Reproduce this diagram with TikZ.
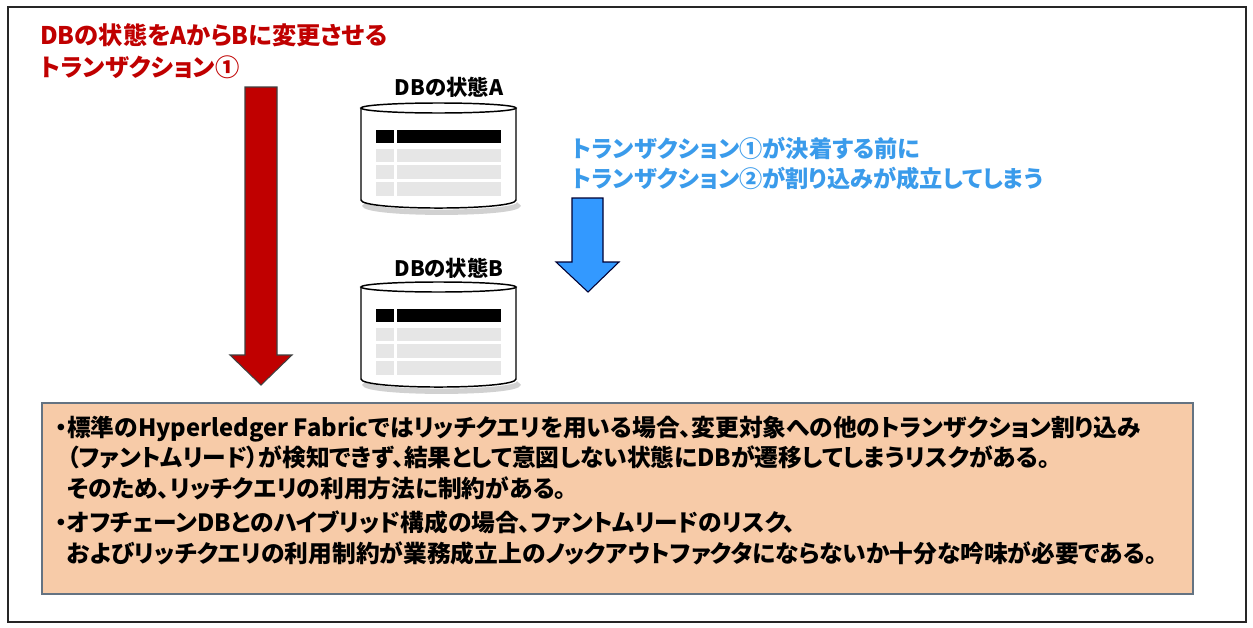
\documentclass[tikz,border=0pt]{standalone}
\usepackage{fontspec}
\setmainfont{Noto Sans CJK JP}[RawFeature=+palt]
\definecolor{darkred}{RGB}{192,0,0}
\definecolor{bluet}{RGB}{58,155,235}
\definecolor{bluearrow}{RGB}{51,153,255}
\definecolor{peach}{RGB}{247,203,168}
\definecolor{boxline}{RGB}{100,115,130}
\definecolor{rowgrey}{RGB}{230,230,230}
\tikzset{
  titletxt/.style={anchor=base west, inner sep=0pt, text=darkred, font=\bfseries\fontsize{18.2}{21}\selectfont},
  bluetxt/.style={anchor=base west, inner sep=0pt, text=bluet, font=\bfseries\fontsize{17.4}{20}\selectfont},
  dblabel/.style={anchor=base, inner sep=0pt, font=\bfseries\fontsize{16}{18}\selectfont},
  boxtxt/.style={anchor=base west, inner sep=0pt, font=\bfseries\fontsize{17.8}{20}\selectfont},
  redarrow/.style={fill=darkred, draw=black!75, line width=0.8pt, line join=miter},
  bluearr/.style={fill=bluearrow, draw=black!80!blue, line width=0.8pt, line join=miter},
  dbcyl/.pic={
    \draw[black!18, line width=4pt] (3,101) .. controls (3,112) and (158,112) .. (158,101);
    \draw[fill=white, line width=1.1pt] (0,5) -- (0,97) .. controls (0,107.7) and (155,107.7) .. (155,97) -- (155,5);
    \draw[fill=white, line width=1.1pt] (77.5,5) ellipse [x radius=58.125pt, y radius=3.75pt];
    \fill[black] (15,27) rectangle (33,40);
    \fill[black] (36,27) rectangle (140,40);
    \foreach \ya/\yb in {46/59, 62/76, 79/93}{
      \fill[rowgrey] (15,\ya) rectangle (33,\yb);
      \fill[rowgrey] (36,\ya) rectangle (140,\yb);
    }
  }
}
\begin{document}
\begin{tikzpicture}[x=0.75pt,y=-0.75pt]
\useasboundingbox (0,0) rectangle (1253,628);
\fill[white] (0,0) rectangle (1253,628);
% outer frame
\draw[line width=1.6pt, black!85] (8,7) rectangle (1246,622);

% title
\node[titletxt] (t1) at (40,44) {DBの状態をAからBに変更させる};
\node[titletxt] (t2) at (40,76) {トランザクション①};

% red arrow
\draw[redarrow] (245,87) -- (277,87) -- (277,355) -- (292,355) -- (261,385) -- (230,355) -- (245,355) -- cycle;

% DB A
\node[dblabel] (la) at (449,95) {DBの状態A};
\pic at (361,103) {dbcyl};
% DB B
\node[dblabel] (lb) at (449,276) {DBの状態B};
\pic at (361,282) {dbcyl};

% blue text
\node[bluetxt] (b1) at (572,157) {トランザクション①が決着する前に};
\node[bluetxt] (b2) at (572,187) {トランザクション②が割り込みが成立してしまう};

% blue arrow
\draw[bluearr] (572,198) -- (603,198) -- (603,262) -- (619,262) -- (588,292) -- (556,262) -- (572,262) -- cycle;

% bottom box
\draw[fill=peach, draw=boxline, line width=1.2pt] (42,403) rectangle (1193,594);
\node[boxtxt] (p1a) at (55,436) {・標準のHyperledger Fabricではリッチクエリを用いる場合、変更対象への他のトランザクション割り込み};
\node[boxtxt] (p1b) at (55,466) {\phantom{・}（ファントムリード）が検知できず、結果として意図しない状態にDBが遷移してしまうリスクがある。};
\node[boxtxt] (p1c) at (55,497) {\phantom{・}そのため、リッチクエリの利用方法に制約がある。};
\node[boxtxt] (p2a) at (55,531) {・オフチェーンDBとのハイブリッド構成の場合、ファントムリードのリスク、};
\node[boxtxt] (p2b) at (55,562) {\phantom{・}およびリッチクエリの利用制約が業務成立上のノックアウトファクタにならないか十分な吟味が必要である。};
\end{tikzpicture}
\end{document}
